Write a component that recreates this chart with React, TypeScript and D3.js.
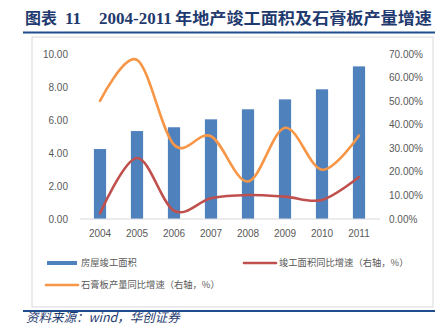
import React from "react";
import * as d3 from "d3";

const years = ["2004", "2005", "2006", "2007", "2008", "2009", "2010", "2011"];
const area = [4.24, 5.33, 5.56, 6.04, 6.65, 7.25, 7.86, 9.25];
const areaGrowth = [0.024, 0.259, 0.035, 0.088, 0.102, 0.095, 0.081, 0.178];
const boardGrowth = [0.501, 0.675, 0.315, 0.351, 0.159, 0.387, 0.209, 0.354];
const leftTicks = [0, 2, 4, 6, 8, 10];
const rightTicks = [0, 0.1, 0.2, 0.3, 0.4, 0.5, 0.6, 0.7];

const W = 435, H = 327;
const FONT = "'Liberation Sans', Arial, sans-serif";
const CJK = "'Noto Sans CJK SC', sans-serif";

export default function App() {
  const x = d3.scalePoint<string>().domain(years).range([100, 359]);
  const yL = d3.scaleLinear().domain([0, 10]).range([219, 54]);
  const yR = d3.scaleLinear().domain([0, 0.7]).range([219, 54]);
  const bw = x.step() * 0.33;
  const curve = d3.curveCatmullRom.alpha(0);
  const lineR = d3.line<number>().x((_, i) => x(years[i])!).y(d => yR(d)).curve(curve);

  return (
    <svg width={W} height={H} style={{ position: "absolute", left: 0, top: 0, background: "#fff" }}>
      <text y={24} fill="#1f3a6e" fontWeight="bold" fontSize={16}>
        <tspan x={25} fontFamily={CJK}>图表</tspan>
        <tspan x={65} fontFamily="'Liberation Serif', serif" fontSize={17}>11</tspan>
        <tspan x={99} fontFamily="'Liberation Serif', serif" fontSize={17}>2004-2011</tspan>
      </text>
      <text x={175} y={24} fill="#1f3a6e" fontWeight="bold" fontSize={16} fontFamily={CJK} textLength={257} lengthAdjust="spacingAndGlyphs">年地产竣工面积及石膏板产量增速</text>
      <line x1={23} x2={435} y1={32.5} y2={32.5} stroke="#1f4e8c" strokeWidth={2} />
      <rect x={32} y={37} width={401} height={270} fill="none" stroke="#d9d9d9" strokeWidth={1} />

      {area.map((v, i) => (
        <rect key={i} x={x(years[i])! - bw / 2} y={yL(v)} width={bw} height={yL(0) - yL(v)} fill="#4f81bd" />
      ))}
      <line x1={80} x2={380} y1={219} y2={219} stroke="#d9d9d9" strokeWidth={1} />

      <path d={lineR(areaGrowth)!} fill="none" stroke="#c0504d" strokeWidth={2.6} strokeLinecap="round" />
      <path d={lineR(boardGrowth)!} fill="none" stroke="#f79646" strokeWidth={2.6} strokeLinecap="round" />

      {leftTicks.map(t => (
        <text key={t} x={68} y={yL(t)} dy="0.35em" textAnchor="end" fontSize={10} fontFamily={FONT} fill="#595959">{t.toFixed(2)}</text>
      ))}
      {rightTicks.map(t => (
        <text key={t} x={389} y={yR(t)} dy="0.35em" textAnchor="start" fontSize={10} fontFamily={FONT} fill="#595959">{(t * 100).toFixed(2) + "%"}</text>
      ))}
      {years.map(yv => (
        <text key={yv} x={x(yv)} y={233} dy="0.35em" textAnchor="middle" fontSize={10} fontFamily={FONT} fill="#595959">{yv}</text>
      ))}

      <rect x={47} y={261} width={30} height={4} fill="#4f81bd" />
      <text x={81} y={263} dy="0.35em" fontSize={9.3} fontFamily={CJK} fill="#595959">房屋竣工面积</text>
      <line x1={244} x2={276} y1={263} y2={263} stroke="#c0504d" strokeWidth={2.6} strokeLinecap="round" />
      <text x={279} y={263} dy="0.35em" fontSize={9.3} fontFamily={CJK} fill="#595959">竣工面积同比增速（右轴，%）</text>
      <line x1={46} x2={78} y1={285} y2={285} stroke="#f79646" strokeWidth={2.6} strokeLinecap="round" />
      <text x={81} y={285} dy="0.35em" fontSize={9.3} fontFamily={CJK} fill="#595959">石膏板产量同比增速（右轴，%）</text>

      <line x1={23} x2={435} y1={311} y2={311} stroke="#1f4e8c" strokeWidth={2} />
      <text x={26} y={322} fontSize={12.5} fontStyle="italic" fontFamily={CJK} fill="#1f3a6e">资料来源：wind，华创证券</text>
    </svg>
  );
}
